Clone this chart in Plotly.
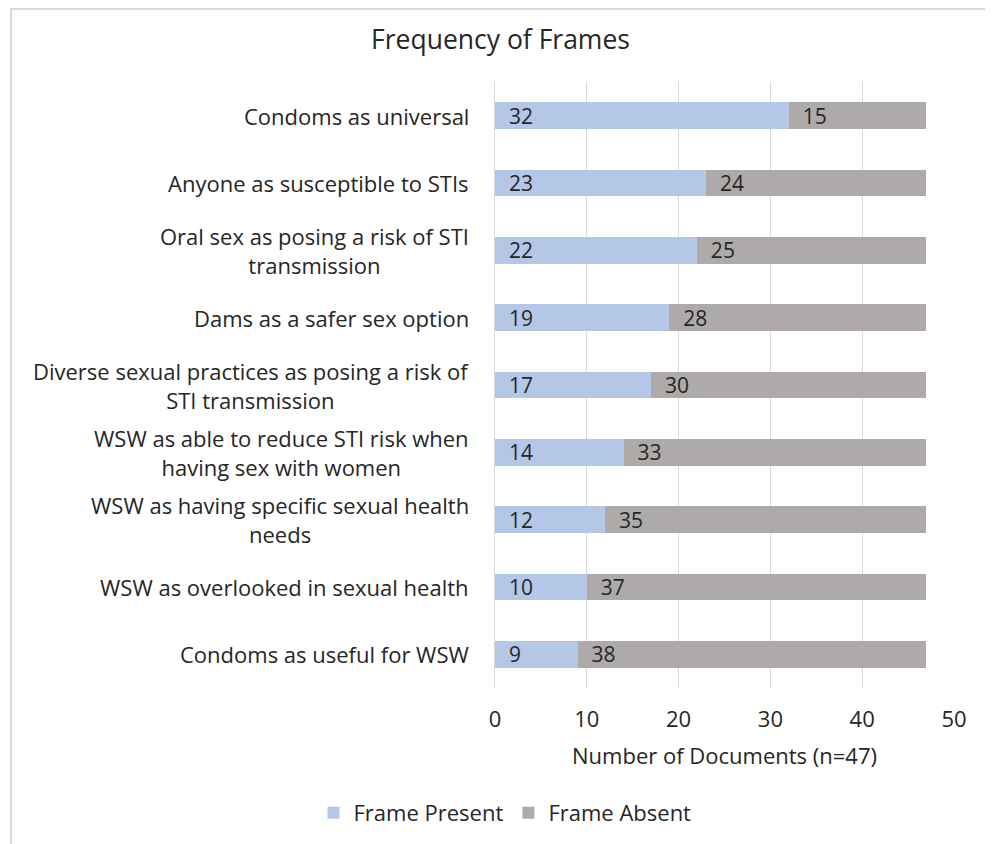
import plotly.graph_objects as go

categories = [
    "Condoms as universal",
    "Anyone as susceptible to STIs",
    "Oral sex as posing a risk of STI<br>transmission",
    "Dams as a safer sex option",
    "Diverse sexual practices as posing a risk of<br>STI transmission",
    "WSW as able to reduce STI risk when<br>having sex with women",
    "WSW as having specific sexual health<br>needs",
    "WSW as overlooked in sexual health",
    "Condoms as useful for WSW",
]
frame_present = [32, 23, 22, 19, 17, 14, 12, 10, 9]
frame_absent = [15, 24, 25, 28, 30, 33, 35, 37, 38]
x_ticks = [0, 10, 20, 30, 40, 50]

FONT = "'Open Sans', Lato, sans-serif"
TXT = "#262626"
FS = 22

W, H = 985, 836
L, R, T, B = 487, 39, 74, 156
PH = H - T - B

fig = go.Figure()
for vals, name, col in [(frame_present, "Frame Present", "#B4C7E7"),
                        (frame_absent, "Frame Absent", "#AEAAAA")]:
    fig.add_trace(go.Bar(
        y=categories, x=vals, orientation="h", name=name,
        marker=dict(color=col, line=dict(width=0)),
        text=vals, texttemplate="  %{x}", textposition="inside",
        insidetextanchor="start", textangle=0, constraintext="none",
        textfont=dict(size=21, color=TXT, family=FONT),
        hoverinfo="x+name",
    ))

annotations = []
for c in categories:
    annotations.append(dict(
        x=0, xref="paper", y=c, yref="y", text=c, showarrow=False,
        xanchor="right", yanchor="middle", align="center", xshift=-24,
        font=dict(size=FS, color=TXT, family=FONT),
    ))

fig.update_layout(
    width=W, height=H,
    paper_bgcolor="white", plot_bgcolor="white",
    margin=dict(l=L, r=R, t=T, b=B, autoexpand=False),
    barmode="stack", bargap=0.6,
    font=dict(family=FONT, color=TXT, size=FS),
    title=dict(text="Frequency of Frames", x=0.5, xanchor="center",
               y=1 - 32 / H, yanchor="middle",
               font=dict(size=26.5, color=TXT, family=FONT)),
    xaxis=dict(range=[0, 50], tickvals=x_ticks, showgrid=True, gridcolor="#D9D9D9",
               gridwidth=1, zeroline=False, showline=False,
               ticks="outside", ticklen=12, tickcolor="rgba(0,0,0,0)",
               tickfont=dict(size=FS, color=TXT, family=FONT),
               title=dict(text="Number of Documents (n=47)", standoff=16,
                          font=dict(size=FS, color=TXT, family=FONT))),
    yaxis=dict(categoryorder="array", categoryarray=categories, autorange="reversed",
               showticklabels=False, showgrid=False, zeroline=False,
               showline=True, linecolor="#D9D9D9", linewidth=1, ticks=""),
    legend=dict(orientation="h", x=(505 - 495) / 459, xanchor="center",
                y=(680 - 805) / PH, yanchor="middle",
                font=dict(size=FS, color=TXT, family=FONT),
                traceorder="normal"),
    annotations=annotations,
    shapes=[dict(type="rect", xref="paper", yref="paper",
                 x0=(3 - L) / 459, x1=(982 - L) / 459,
                 y0=(680 - 870) / PH, y1=(680 - 1) / PH,
                 line=dict(color="#D9D9D9", width=2), fillcolor="rgba(0,0,0,0)",
                 layer="below")],
)

fig.write_html("out.html")
